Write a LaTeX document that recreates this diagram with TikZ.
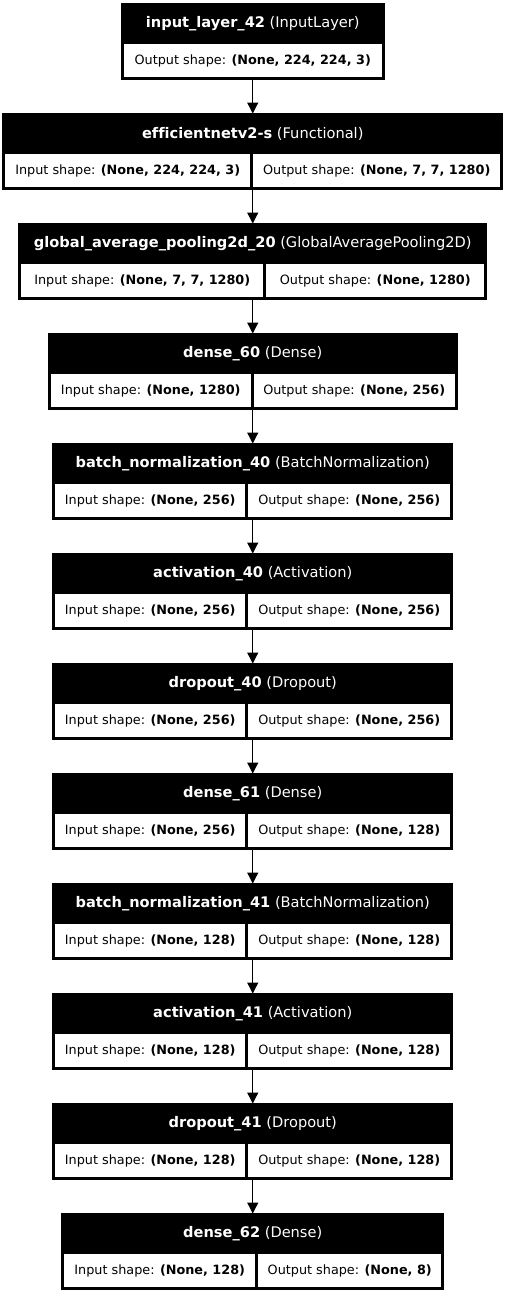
\documentclass[tikz,border=0pt]{standalone}
\usepackage{fontspec}
\setmainfont{DejaVu Sans}[Ligatures=NoCommon]
\usetikzlibrary{arrows.meta,positioning}
\tikzset{
    layer/.style={draw=black,fill=black,line width=1pt,minimum height=76pt,inner sep=0pt,outer sep=0pt},
    headtext/.style={text=white,inner sep=0pt,font=\fontsize{14.6}{17}\selectfont},
    cell/.style={draw=black,fill=white,line width=0.6pt,minimum height=34pt,inner sep=0pt,outer sep=0pt,font=\fontsize{12.8}{15}\selectfont},
    flow/.style={line width=1.3pt,-{Triangle[length=11pt,width=11pt]}}
}
\newcommand{\LayerBox}[9]{%
    \node[layer,minimum width=#3pt,#2] (#1) {};
    \node[headtext] (#1-t) at ([yshift=-20pt]#1.north) {\textbf{#6} (#7)};
    \node[cell,minimum width=#4pt,anchor=south west] (#1-in) at ([shift={(2pt,2pt)}]#1.south west) {Input shape: \textbf{#8}};
    \node[cell,minimum width=#5pt,anchor=south east] (#1-out) at ([shift={(-2pt,2pt)}]#1.south east) {Output shape: \textbf{#9}};
}
\begin{document}
\begin{tikzpicture}
    \useasboundingbox (0,0) rectangle (506pt,-1294pt);
    \node[layer,minimum width=263pt,anchor=north] (l1) at (252.75pt,-3.5pt) {};
    \node[headtext] (l1-t) at ([yshift=-20pt]l1.north) {\textbf{input\_layer\_42} (InputLayer)};
    \node[cell,minimum width=259pt,anchor=south] (l1-out) at ([yshift=2pt]l1.south) {Output shape: \textbf{(None, 224, 224, 3)}};
    \LayerBox{l2}{below=34pt of l1}{500}{246}{248}{efficientnetv2-s}{Functional}{(None, 224, 224, 3)}{(None, 7, 7, 1280)}
    \LayerBox{l3}{below=34pt of l2}{468}{243}{219}{global\_average\_pooling2d\_20}{GlobalAveragePooling2D}{(None, 7, 7, 1280)}{(None, 1280)}
    \LayerBox{l4}{below=34pt of l3}{409}{201}{202}{dense\_60}{Dense}{(None, 1280)}{(None, 256)}
    \LayerBox{l5}{below=34pt of l4}{400}{191}{203}{batch\_normalization\_40}{BatchNormalization}{(None, 256)}{(None, 256)}
    \LayerBox{l6}{below=34pt of l5}{400}{191}{203}{activation\_40}{Activation}{(None, 256)}{(None, 256)}
    \LayerBox{l7}{below=34pt of l6}{400}{191}{203}{dropout\_40}{Dropout}{(None, 256)}{(None, 256)}
    \LayerBox{l8}{below=34pt of l7}{400}{191}{203}{dense\_61}{Dense}{(None, 256)}{(None, 128)}
    \LayerBox{l9}{below=34pt of l8}{400}{191}{203}{batch\_normalization\_41}{BatchNormalization}{(None, 128)}{(None, 128)}
    \LayerBox{l10}{below=34pt of l9}{400}{191}{203}{activation\_41}{Activation}{(None, 128)}{(None, 128)}
    \LayerBox{l11}{below=34pt of l10}{400}{191}{203}{dropout\_41}{Dropout}{(None, 128)}{(None, 128)}
    \LayerBox{l12}{below=34pt of l11}{382}{192}{184}{dense\_62}{Dense}{(None, 128)}{(None, 8)}

    \draw[flow] (l1) -- (l2);
    \draw[flow] (l2) -- (l3);
    \draw[flow] (l3) -- (l4);
    \draw[flow] (l4) -- (l5);
    \draw[flow] (l5) -- (l6);
    \draw[flow] (l6) -- (l7);
    \draw[flow] (l7) -- (l8);
    \draw[flow] (l8) -- (l9);
    \draw[flow] (l9) -- (l10);
    \draw[flow] (l10) -- (l11);
    \draw[flow] (l11) -- (l12);
\end{tikzpicture}
\end{document}
